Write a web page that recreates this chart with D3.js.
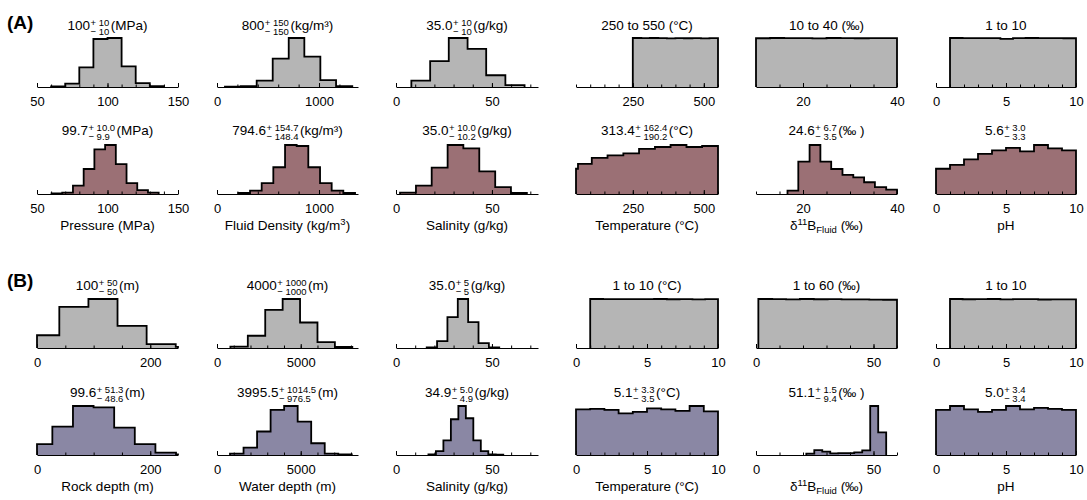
<!DOCTYPE html>
<html>
<head>
<meta charset="utf-8">
<script src="https://cdn.jsdelivr.net/npm/d3@7"></script>
<style>
body { margin: 0; background: #fff; }
text { font-family: "Liberation Sans", Arial, sans-serif; fill: #000; }
</style>
</head>
<body>
<svg id="svg" width="1087" height="500"></svg>
<script>
// ---- data (bin edges + relative bin heights, %) ----
// (A) priors
var pressPriorEdges = [60, 70, 80, 90, 100, 110, 120, 130, 140];
var pressPriorFreq  = [1, 7, 40, 98, 100, 42, 8, 1.5];
var densPriorEdges  = [78, 232, 389, 546, 703, 856, 1013, 1167, 1326];
var densPriorFreq   = [0.8, 1.5, 13, 58, 100, 62, 14, 1.5];
var salPriorEdges   = [8, 17.8, 27.5, 37.3, 47, 57, 67];
var salPriorFreq    = [13, 53, 100, 78, 24, 4];
var tempPriorEdges  = [250, 280, 310, 340, 370, 400, 430, 460, 490, 520, 550];
var tempPriorFreq   = [100, 99.6, 100, 99.7, 99.4, 99.8, 99.5, 99.9, 99.3, 99.7];
var d11PriorEdges   = [10, 13, 16, 19, 22, 25, 28, 31, 34, 37, 40];
var d11PriorFreq    = [99.5, 100, 99.6, 99.8, 99.4, 100, 99.7, 99.5, 99.9, 99.6];
var phPriorEdges    = [1, 1.9, 2.8, 3.7, 4.6, 5.5, 6.4, 7.3, 8.2, 9.1, 10];
var phPriorFreq     = [100, 99.7, 99.9, 99.8, 98.2, 99.9, 100, 99.6, 99.8, 99.5];
// (A) posteriors
var pressPostEdges = [60.3, 67.9, 75.5, 83.1, 90.7, 98.3, 105.9, 113.5, 121.1, 128.7, 136.3];
var pressPostFreq  = [1, 3, 17, 51, 91, 100, 61, 22, 8, 3];
var densPostEdges  = [209, 324, 438, 552, 667, 781, 895, 1010, 1124, 1238, 1353];
var densPostFreq   = [2, 7, 22, 54, 99, 97, 54, 22, 7, 2];
var salPostEdges   = [2.1, 10.4, 18.6, 26.9, 35.1, 43.4, 51.7, 59.9, 68.2];
var salPostFreq    = [3, 17, 54, 100, 93, 46, 14, 2];
var tempPostEdges  = [50, 57, 105.6, 161, 216.7, 272, 328, 383, 439, 494, 550];
var tempPostFreq   = [51, 61, 73, 78, 82, 91, 95, 99, 95, 97];
var d11PostEdges   = [16.7, 19, 21.4, 23.7, 26, 28.4, 30.7, 33, 35.3, 37.7, 40];
var d11PostFreq    = [7, 66, 100, 66, 51, 39, 34, 24, 14, 9];
var phPostEdges    = [0, 1, 2, 3, 4, 5, 6, 7, 8, 9, 10];
var phPostFreq     = [51, 59, 70, 81, 88, 93, 86, 99, 92, 88];
// (B) priors
var rockPriorEdges  = [0, 39.4, 90.8, 142.2, 193.6, 245, 249];
var rockPriorFreq   = [26, 84, 100, 45, 8, 2.5];
var waterPriorEdges = [800, 1840, 2880, 3920, 4960, 6000, 7040, 8080];
var waterPriorFreq  = [3, 25, 78, 100, 52, 12, 2];
var salBPriorEdges  = [16, 21.4, 26.8, 32.2, 37.6, 43, 48.4, 53.8];
var salBPriorFreq   = [1, 14, 63, 100, 53, 10, 1];
var tempBPriorEdges = [1, 1.9, 2.8, 3.7, 4.6, 5.5, 6.4, 7.3, 8.2, 9.1, 10];
var tempBPriorFreq  = [100, 99.8, 99.6, 99.9, 99.7, 100, 99.5, 99.8, 99.4, 99.6];
var d11BPriorEdges  = [1, 6.9, 12.8, 18.7, 24.6, 30.5, 36.4, 42.3, 48.2, 54.1, 60];
var d11BPriorFreq   = [100, 99.6, 99.3, 100, 99.5, 99.9, 99.4, 99.1, 98.8, 98.5];
var phBPriorEdges   = [1, 1.9, 2.8, 3.7, 4.6, 5.5, 6.4, 7.3, 8.2, 9.1, 10];
var phBPriorFreq    = [100, 99.5, 99.8, 100, 99.4, 99.9, 99.6, 99, 99.2, 99.3];
// (B) posteriors
var rockPostEdges  = [0, 27.1, 63.5, 99.9, 136.3, 172.7, 209.1, 245.5, 249];
var rockPostFreq   = [22, 58, 100, 97, 56, 22, 5, 1];
var waterPostEdges = [777, 1585, 2393, 3201, 4009, 4817, 5625, 6433, 7241, 8049];
var waterPostFreq  = [3, 15, 48, 92, 100, 68, 24, 3, 1];
var salBPostEdges  = [16.9, 20.8, 24.7, 28.6, 32.5, 36.4, 40.3, 44.2, 48.1, 52, 55.9];
var salBPostFreq   = [1, 8, 30, 73, 100, 75, 30, 8, 1, 0.5];
var tempBPostEdges = [0, 1, 2, 3, 4, 5, 6, 7, 8, 9, 10];
var tempBPostFreq  = [93, 94, 92, 85, 88, 95, 93, 90, 100, 89];
var d11BPostEdges  = [21.4, 24.8, 28.2, 31.6, 35, 38.4, 41.8, 45.2, 48.6, 52, 55.4];
var d11BPostFreq   = [3, 10, 7, 3.5, 4, 4, 5.5, 9.5, 100, 46];
var phBPostEdges   = [0, 1, 2, 3, 4, 5, 6, 7, 8, 9, 10];
var phBPostFreq    = [92, 100, 93, 88, 92, 100, 93, 96, 94, 92];

// axes: domains, labelled ticks, minor tick step
var domainsA = [[50, 150], [0, 1382], [0, 74], [50, 550], [10, 40], [0, 10]];
var domainsB = [[0, 249], [0, 8420], [0, 74], [0, 10], [0, 60], [0, 10]];
var ticksA = [[50, 100, 150], [0, 1000], [0, 50], [250, 500], [20, 40], [0, 5, 10]];
var ticksB = [[0, 200], [0, 5000], [0, 50], [0, 5, 10], [0, 50], [0, 5, 10]];
var minorA = [10, 200, 10, 50, 5, 1];
var minorB = [50, 1000, 10, 1, 10, 1];

// titles: [value, plus, minus, unit] or plain text
var titlesAprior = [["100", "+ 10", "\u2212 10", "(MPa)"], ["800", "+ 150", "\u2212 150", "(kg/m\u00b3)"],
  ["35.0", "+ 10", "\u2212 10", "(g/kg)"], "250 to 550 (\u00b0C)", "10 to 40 (\u2030)", "1 to 10"];
var titlesApost = [["99.7", "+ 10.0", "\u2212 9.9", "(MPa)"], ["794.6", "+ 154.7", "\u2212 148.4", "(kg/m\u00b3)"],
  ["35.0", "+ 10.0", "\u2212 10.2", "(g/kg)"], ["313.4", "+ 162.4", "\u2212 190.2", "(\u00b0C)"],
  ["24.6", "+ 6.7", "\u2212 3.5", "(\u2030 )"], ["5.6", "+ 3.0", "\u2212 3.3", ""]];
var titlesBprior = [["100", "+ 50", "\u2212 50", "(m)"], ["4000", "+ 1000", "\u2212 1000", "(m)"],
  ["35.0", "+ 5", "\u2212 5", "(g/kg)"], "1 to 10 (\u00b0C)", "1 to 60 (\u2030)", "1 to 10"];
var titlesBpost = [["99.6", "+ 51.3", "\u2212 48.6", "(m)"], ["3995.5", "+ 1014.5", "\u2212 976.5", "(m)"],
  ["34.9", "+ 5.0", "\u2212 4.9", "(g/kg)"], ["5.1", "+ 3.3", "\u2212 3.5", "(\u00b0C)"],
  ["51.1", "+ 1.5", "\u2212 9.4", "(\u2030 )"], ["5.0", "+ 3.4", "\u2212 3.4", ""]];

var xlabelsA = [[["Pressure (MPa)", ""]], [["Fluid Density (kg/m", ""], ["3", "sup"], [")", ""]],
  [["Salinity (g/kg)", ""]], [["Temperature (\u00b0C)", ""]],
  [["\u03b4", ""], ["11", "sup"], ["B", ""], ["Fluid", "sub"], [" (\u2030)", ""]], [["pH", ""]]];
var xlabelsB = [[["Rock depth (m)", ""]], [["Water depth (m)", ""]], [["Salinity (g/kg)", ""]],
  [["Temperature (\u00b0C)", ""]], [["\u03b4", ""], ["11", "sup"], ["B", ""], ["Fluid", "sub"], [" (\u2030)", ""]], [["pH", ""]]];

var greyFill = "#b5b5b5", mauveFill = "#9b7075", lavFill = "#8a87a4";

var rowsSpec = [
  {edges: [pressPriorEdges, densPriorEdges, salPriorEdges, tempPriorEdges, d11PriorEdges, phPriorEdges],
   freq: [pressPriorFreq, densPriorFreq, salPriorFreq, tempPriorFreq, d11PriorFreq, phPriorFreq],
   dom: domainsA, ticks: ticksA, minor: minorA, titles: titlesAprior, xl: null, fill: greyFill},
  {edges: [pressPostEdges, densPostEdges, salPostEdges, tempPostEdges, d11PostEdges, phPostEdges],
   freq: [pressPostFreq, densPostFreq, salPostFreq, tempPostFreq, d11PostFreq, phPostFreq],
   dom: domainsA, ticks: ticksA, minor: minorA, titles: titlesApost, xl: xlabelsA, fill: mauveFill},
  {edges: [rockPriorEdges, waterPriorEdges, salBPriorEdges, tempBPriorEdges, d11BPriorEdges, phBPriorEdges],
   freq: [rockPriorFreq, waterPriorFreq, salBPriorFreq, tempBPriorFreq, d11BPriorFreq, phBPriorFreq],
   dom: domainsB, ticks: ticksB, minor: minorB, titles: titlesBprior, xl: null, fill: greyFill},
  {edges: [rockPostEdges, waterPostEdges, salBPostEdges, tempBPostEdges, d11BPostEdges, phBPostEdges],
   freq: [rockPostFreq, waterPostFreq, salBPostFreq, tempBPostFreq, d11BPostFreq, phBPostFreq],
   dom: domainsB, ticks: ticksB, minor: minorB, titles: titlesBpost, xl: xlabelsB, fill: lavFill}
];

// ---- layout ----
var svg = d3.select("#svg");
var colX = [[37, 178], [217, 358], [396, 538], [576, 718], [756, 897], [936, 1076]];
var rowBase = [87, 194, 348, 455];
var titleY = [30, 135, 290, 397];
var plotH = 49;

function drawTitle(cx, yb, t) {
  if (typeof t === "string") {
    svg.append("text").attr("x", cx).attr("y", yb).attr("text-anchor", "middle")
      .style("font-size", "13.5px").text(t);
    return;
  }
  var tg = svg.append("g");
  var main = tg.append("text").attr("x", 0).attr("y", 0).style("font-size", "13.5px").text(t[0]);
  var w = main.node().getComputedTextLength();
  var sup = tg.append("text").attr("x", w + 0.5).attr("y", -4.5).style("font-size", "9.5px").text(t[1]);
  var sub = tg.append("text").attr("x", w + 0.5).attr("y", 4.5).style("font-size", "9.5px").text(t[2]);
  var sw = Math.max(sup.node().getComputedTextLength(), sub.node().getComputedTextLength());
  var unit = tg.append("text").attr("x", w + sw + 2).attr("y", 0).style("font-size", "13.5px").text(t[3]);
  var total = w + sw + 2 + unit.node().getComputedTextLength();
  tg.attr("transform", "translate(" + (cx - total / 2) + "," + yb + ")");
}

function drawLabel(cx, yb, segs) {
  var tx = svg.append("text").attr("x", cx).attr("y", yb).attr("text-anchor", "middle")
    .style("font-size", "13.5px");
  var off = 0;
  segs.forEach(function(s) {
    var target = s[1] === "sup" ? -5 : (s[1] === "sub" ? 3 : 0);
    tx.append("tspan").attr("dy", target - off)
      .style("font-size", s[1] ? "9.5px" : "13.5px").text(s[0]);
    off = target;
  });
}

rowsSpec.forEach(function(r, ri) {
  var base = rowBase[ri];
  for (var c = 0; c < 6; c++) {
    var edges = r.edges[c], freq = r.freq[c];
    var x = d3.scaleLinear().domain(r.dom[c]).range(colX[c]).clamp(true);
    var y = d3.scaleLinear().domain([0, d3.max(freq)]).range([base, base - plotH]);

    var pts = [[edges[0], 0]];
    freq.forEach(function(f, i) { pts.push([edges[i], f]); pts.push([edges[i + 1], f]); });
    pts.push([edges[edges.length - 1], 0]);
    var line = d3.line().x(function(d) { return x(d[0]); }).y(function(d) { return y(d[1]); });

    svg.append("path").attr("d", line(pts) + "Z").attr("fill", r.fill);

    // minor ticks
    var mStep = r.minor[c], dm = r.dom[c];
    var minorVals = d3.range(Math.ceil(dm[0] / mStep) * mStep, dm[1] + 1e-9, mStep);
    svg.append("g").attr("transform", "translate(0," + base + ")")
      .call(d3.axisBottom(x).tickValues(minorVals).tickSizeInner(-2.5).tickSizeOuter(0).tickFormat(""))
      .call(function(g) { g.select(".domain").remove(); });

    var ax = svg.append("g").attr("transform", "translate(0," + base + ")")
      .call(d3.axisBottom(x).tickValues(r.ticks[c]).tickSizeInner(-4).tickSizeOuter(0)
        .tickPadding(10).tickFormat(d3.format("d")));
    ax.selectAll("text").style("font-size", "13px").attr("font-family", null);
    ax.attr("font-family", null).attr("font-size", null);

    svg.append("path").attr("d", line(pts)).attr("fill", "none")
      .attr("stroke", "#000").attr("stroke-width", 1.8);

    var cx = (colX[c][0] + colX[c][1]) / 2;
    drawTitle(cx, titleY[ri], r.titles[c]);
    if (r.xl) drawLabel(cx, base + 35.5, r.xl[c]);
  }
});

svg.append("text").attr("x", 7).attr("y", 29).style("font-size", "19px").style("font-weight", "bold").text("(A)");
svg.append("text").attr("x", 7).attr("y", 287).style("font-size", "19px").style("font-weight", "bold").text("(B)");
</script>
</body>
</html>
